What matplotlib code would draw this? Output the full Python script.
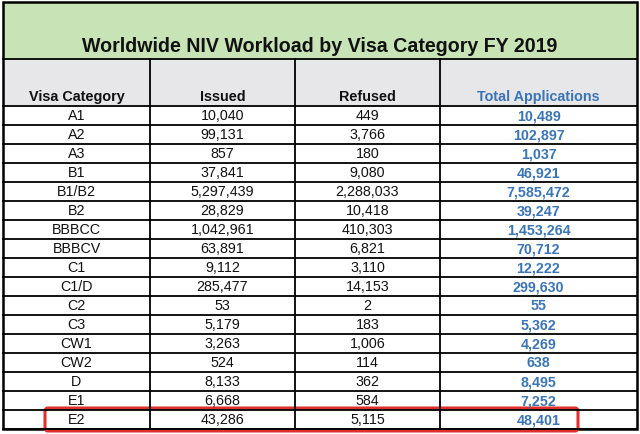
import matplotlib.pyplot as plt
from matplotlib.patches import Rectangle, FancyBboxPatch

# ---------- dados ----------
titulo = "Worldwide NIV Workload by Visa Category FY 2019"
cabecalho = ["Visa Category", "Issued", "Refused", "Total Applications"]
categorias = ["A1", "A2", "A3", "B1", "B1/B2", "B2", "BBBCC", "BBBCV", "C1",
              "C1/D", "C2", "C3", "CW1", "CW2", "D", "E1", "E2"]
emitidos = [10040, 99131, 857, 37841, 5297439, 28829, 1042961, 63891, 9112,
            285477, 53, 5179, 3263, 524, 8133, 6668, 43286]
recusados = [449, 3766, 180, 9080, 2288033, 10418, 410303, 6821, 3110,
             14153, 2, 183, 1006, 114, 362, 584, 5115]
totais = [10489, 102897, 1037, 46921, 7585472, 39247, 1453264, 70712, 12222,
          299630, 55, 5362, 4269, 638, 8495, 7252, 48401]
destaque = "E2"

# ---------- layout (pixels) ----------
W, H = 640, 435
x_bordas = [3, 150, 295, 440, 637]
y_topo, y_titulo, y_cab = 3, 60, 107
h_linha = 19.0
verde = "#c8e3b6"
cinza = "#e7e7e9"
azul = "#3b75b5"
fonte = "Liberation Sans"

fig = plt.figure(figsize=(W / 100, H / 100), dpi=100)
ax = fig.add_axes([0, 0, 1, 1])
ax.set_xlim(0, W)
ax.set_ylim(H, 0)
ax.axis("off")

n = len(categorias)
y_fim = y_cab + n * h_linha
lw = 1.3

# fundos
ax.add_patch(Rectangle((x_bordas[0], y_topo), x_bordas[-1] - x_bordas[0],
                       y_titulo - y_topo, facecolor=verde, edgecolor="none"))
ax.add_patch(Rectangle((x_bordas[0], y_titulo), x_bordas[-1] - x_bordas[0],
                       y_cab - y_titulo, facecolor=cinza, edgecolor="none"))

# título
ax.text((x_bordas[0] + x_bordas[-1]) / 2, 47, titulo, ha="center", va="center",
        fontsize=14.1, fontweight="bold", family=fonte, color="#111111")

# cabeçalho
for i, txt in enumerate(cabecalho):
    cx = (x_bordas[i] + x_bordas[i + 1]) / 2
    ax.text(cx, 97, txt, ha="center", va="center", fontsize=10.4,
            fontweight="bold", family=fonte,
            color=azul if i == 3 else "#111111")

# linhas de dados
for r in range(n):
    cy = y_cab + (r + 0.5) * h_linha
    vals = [categorias[r], f"{emitidos[r]:,}", f"{recusados[r]:,}", f"{totais[r]:,}"]
    for i, v in enumerate(vals):
        cx = (x_bordas[i] + x_bordas[i + 1]) / 2
        ax.text(cx, cy, v, ha="center", va="center", fontsize=10.3,
                family=fonte, fontweight="bold" if i == 3 else "normal",
                color=azul if i == 3 else "#111111")

# grade
for r in range(n + 1):
    y = y_cab + r * h_linha
    ax.plot([x_bordas[0], x_bordas[-1]], [y, y], color="black", lw=lw)
ax.plot([x_bordas[0], x_bordas[-1]], [y_titulo, y_titulo], color="black", lw=lw)
for x in x_bordas[1:-1]:
    ax.plot([x, x], [y_titulo, y_fim], color="black", lw=lw)
ax.add_patch(Rectangle((x_bordas[0], y_topo), x_bordas[-1] - x_bordas[0],
                       y_fim - y_topo, facecolor="none", edgecolor="black", lw=1.8))

# destaque em vermelho
r = categorias.index(destaque)
y0 = y_cab + r * h_linha
ax.add_patch(FancyBboxPatch((45, y0 - 2), 578 - 45, h_linha + 4,
                            boxstyle="round,pad=0,rounding_size=3",
                            facecolor="none", edgecolor="#e0302c", lw=2.2))

fig.savefig("out.png", dpi=100)
